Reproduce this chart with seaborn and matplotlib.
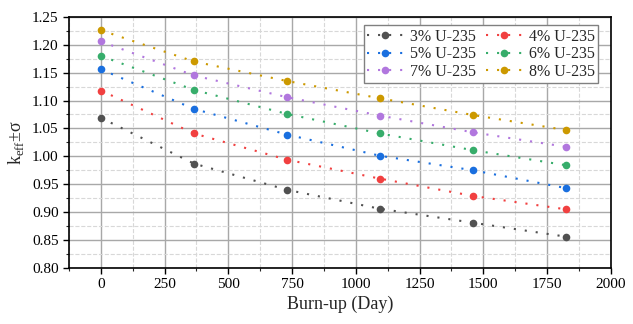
import matplotlib
matplotlib.use("Agg")
import matplotlib.pyplot as plt
import seaborn as sns
import numpy as np
import pandas as pd
from matplotlib.ticker import MultipleLocator, FormatStrFormatter

# burn-up days and k_eff per enrichment
days = [0, 365, 730, 1095, 1460, 1825]
enrich = ["3% U-235", "4% U-235", "5% U-235", "6% U-235", "7% U-235", "8% U-235"]
keff_3 = [1.069, 0.987, 0.940, 0.906, 0.881, 0.856]
keff_4 = [1.118, 1.041, 0.994, 0.960, 0.929, 0.905]
keff_5 = [1.156, 1.085, 1.039, 1.001, 0.975, 0.943]
keff_6 = [1.180, 1.119, 1.076, 1.041, 1.011, 0.984]
keff_7 = [1.206, 1.145, 1.106, 1.073, 1.043, 1.017]
keff_8 = [1.226, 1.170, 1.135, 1.104, 1.074, 1.047]
colors = ["#515151", "#F14040", "#1A6FDF", "#37AD6B", "#B177DE", "#CC9900"]

series = [keff_3, keff_4, keff_5, keff_6, keff_7, keff_8]
df = pd.DataFrame({
    "day": days * len(enrich),
    "keff": np.concatenate(series),
    "enrich": np.repeat(enrich, len(days)),
})

sns.set_style("ticks")
plt.rcParams["font.family"] = ["Liberation Serif", "DejaVu Serif"]
plt.rcParams["mathtext.fontset"] = "custom"
plt.rcParams["mathtext.rm"] = "Liberation Serif"

fig, ax = plt.subplots(figsize=(6.33, 3.24), dpi=100)
fig.subplots_adjust(left=0.109, right=0.965, top=0.948, bottom=0.173)

for name, col in zip(enrich, colors):
    sub = df[df["enrich"] == name]
    sns.lineplot(data=sub, x="day", y="keff", color=col, marker="o",
                 markersize=5.5, markeredgewidth=0, linewidth=1.5,
                 label=name, ax=ax, zorder=3)
    ax.lines[-1].set_dashes((1, 4.3))

ax.set_xlim(-125, 2000)
ax.set_ylim(0.80, 1.25)
ax.xaxis.set_major_locator(MultipleLocator(250))
ax.xaxis.set_minor_locator(MultipleLocator(125))
ax.yaxis.set_major_locator(MultipleLocator(0.05))
ax.yaxis.set_minor_locator(MultipleLocator(0.025))
ax.yaxis.set_major_formatter(FormatStrFormatter("%.2f"))

ax.grid(which="major", color="#a8a8a8", linewidth=1.0, linestyle="-")
ax.grid(which="minor", color="#d8d8d8", linewidth=0.8, linestyle="--")
ax.set_axisbelow(True)

ax.tick_params(which="major", direction="out", length=4, width=1, labelsize=11, colors="black")
ax.tick_params(which="minor", direction="out", length=2.5, width=0.8)
for sp in ax.spines.values():
    sp.set_linewidth(1.2)
    sp.set_color("black")

ax.set_xlabel("Burn-up (Day)", fontsize=13, labelpad=3)
ax.set_ylabel(r"k$_{\rm eff}$±σ", fontsize=13, labelpad=4)

# row-wise legend order: 3,4 / 5,6 / 7,8
handles, labels = ax.get_legend_handles_labels()
order = [0, 2, 4, 1, 3, 5]
leg = ax.legend([handles[i] for i in order], [labels[i] for i in order],
                ncol=2, loc="upper right", fontsize=11.5, frameon=True,
                fancybox=False, edgecolor="#808080", framealpha=1,
                handlelength=2.3, columnspacing=0.6, handletextpad=0.4,
                borderpad=0.2, labelspacing=0.1, borderaxespad=0.3,
                bbox_to_anchor=(0.985, 0.985))
leg.get_frame().set_linewidth(1.0)

fig.savefig("out.png", dpi=100)
plt.close(fig)
